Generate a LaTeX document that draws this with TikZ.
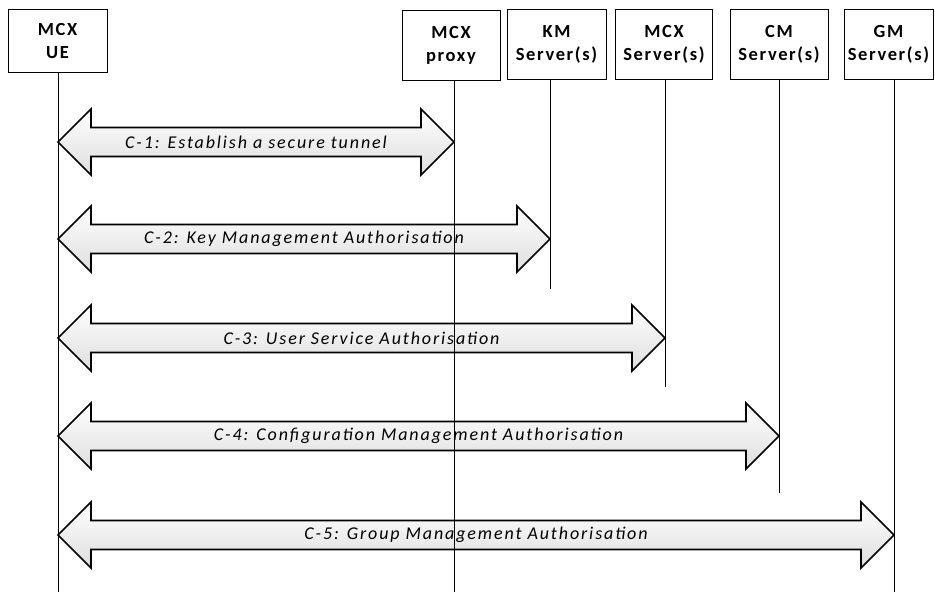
\documentclass[tikz,border=0pt]{standalone}
\usepackage{fontspec}
\setmainfont{Carlito}
\newfontfamily\hdrfont[LetterSpace=9]{Carlito}
\newfontfamily\lblfont[LetterSpace=10.5]{Carlito}
\usetikzlibrary{calc}
\tikzset{
  box/.style={draw, line width=0.8pt, align=center, inner sep=0pt,
    font=\hdrfont\bfseries\fontsize{18.5}{23}\selectfont},
  life/.style={line width=0.8pt},
  arr/.style={draw, line width=1.6pt, line join=miter, top color=white, bottom color=black!13},
  lbl/.style={font=\lblfont\itshape\fontsize{18}{22}\selectfont, inner sep=0pt}
}
\newcommand{\dblarr}[2]{%
  \path[arr] (#1) -- ++(33,-33) -- ++(0,18.5) -- ($(#2)+(-33,-14.5)$) -- ++(0,-18.5)
    -- (#2) -- ++(-33,33) -- ++(0,-18.5) -- ($(#1)+(33,14.5)$) -- ++(0,18.5) -- cycle;
}
\begin{document}
\begin{tikzpicture}[x=1pt,y=-1pt]
\useasboundingbox[fill=white] (0,0) rectangle (935,592);
% boxes
\node[box, minimum width=99, minimum height=63] (ue) at (57.5,40.5) {MCX\\UE};
\node[box, minimum width=98, minimum height=70] (px) at (451,45) {MCX\\proxy};
\node[box, minimum width=99, minimum height=70] (km) at (556.5,44.5) {KM\\Server(s)};
\node[box, minimum width=97, minimum height=70] (ms) at (664,44.5) {MCX\\Server(s)};
\node[box, minimum width=98, minimum height=70] (cm) at (779,44.5) {CM\\Server(s)};
\node[box, minimum width=89, minimum height=70] (gm) at (888.5,44.5) {GM\\Server(s)};
% lifeline ends
\coordinate (uel) at (58,592);
\coordinate (pxl) at (454,592);
\coordinate (kml) at (550,289);
\coordinate (msl) at (665,387);
\coordinate (cml) at (779,493);
\coordinate (gml) at (894,592);
% arrow tips
\coordinate (a1) at (58,142);  \coordinate (b1) at (454,142);
\coordinate (a2) at (58,239);  \coordinate (b2) at (550,239);
\coordinate (a3) at (58,338);  \coordinate (b3) at (665,338);
\coordinate (a4) at (58,436);  \coordinate (b4) at (779,436);
\coordinate (a5) at (58,535);  \coordinate (b5) at (894,535);
% arrows
\dblarr{a1}{b1}
\dblarr{a2}{b2}
\dblarr{a3}{b3}
\dblarr{a4}{b4}
\dblarr{a5}{b5}
% lifelines
\draw[life] (ue.south -| uel) -- (uel);
\draw[life] (px.south -| pxl) -- (pxl);
\draw[life] (km.south -| kml) -- (kml);
\draw[life] (ms.south -| msl) -- (msl);
\draw[life] (cm.south -| cml) -- (cml);
\draw[life] (gm.south -| gml) -- (gml);
% labels
\node[lbl] (l1) at ($(a1)!0.5!(b1)$) {C-1: Establish a secure tunnel};
\node[lbl] (l2) at ($(a2)!0.5!(b2)$) {C-2: Key Management Authorisation};
\node[lbl] (l3) at ($(a3)!0.5!(b3)$) {C-3: User Service Authorisation};
\node[lbl] (l4) at ($(a4)!0.5!(b4)$) {C-4: Configuration Management Authorisation};
\node[lbl] (l5) at ($(a5)!0.5!(b5)$) {C-5: Group Management Authorisation};
\end{tikzpicture}
\end{document}
